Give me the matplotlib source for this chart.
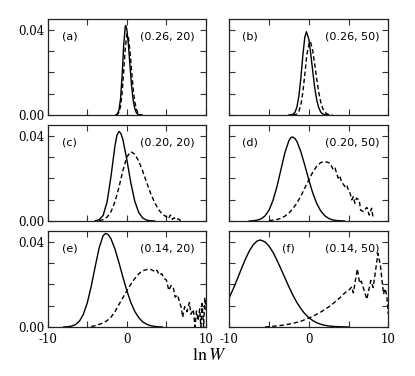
import matplotlib
matplotlib.use("Agg")
import matplotlib.pyplot as plt
from matplotlib.ticker import MultipleLocator, FixedLocator

# ---------------- data ----------------
a_solid_x = [-1.4, -1.2, -1.0, -0.8, -0.6, -0.4, -0.2, -0.15, 0.0, 0.2, 0.4, 0.6, 0.8, 1.0, 1.2, 1.4, 1.6, 1.8]
a_solid_y = [0.0000, 0.0005, 0.0022, 0.0075, 0.0184, 0.0326, 0.0416, 0.0420, 0.0401, 0.0329, 0.0229, 0.0136,
             0.0069, 0.0030, 0.0011, 0.0003, 0.0001, 0.0000]
a_dash_x = [-1.4, -1.2, -1.0, -0.8, -0.6, -0.4, -0.2, 0.0, 0.05, 0.2, 0.4, 0.6, 0.8, 1.0, 1.2, 1.4, 1.6, 1.8, 2.0]
a_dash_y = [0.0000, 0.0003, 0.0012, 0.0040, 0.0102, 0.0202, 0.0313, 0.0377, 0.0380, 0.0363, 0.0298, 0.0207,
            0.0123, 0.0062, 0.0027, 0.0010, 0.0003, 0.0001, 0.0000]

b_solid_x = [-2.5, -2.25, -2.0, -1.75, -1.5, -1.25, -1.0, -0.75, -0.5, -0.3, 0.0, 0.25, 0.5, 0.75, 1.0, 1.25,
             1.5, 1.75, 2.0, 2.25, 2.5]
b_solid_y = [0.0000, 0.0001, 0.0003, 0.0012, 0.0036, 0.0088, 0.0173, 0.0279, 0.0365, 0.0390, 0.0356, 0.0286,
             0.0203, 0.0127, 0.0070, 0.0034, 0.0014, 0.0005, 0.0002, 0.0001, 0.0000]
b_dash_x = [-2.0, -1.75, -1.5, -1.25, -1.0, -0.75, -0.5, -0.25, 0.1, 0.25, 0.5, 0.75, 1.0, 1.25, 1.5, 1.75,
            2.0, 2.25, 2.5, 2.75, 3.0]
b_dash_y = [0.0000, 0.0001, 0.0005, 0.0017, 0.0047, 0.0105, 0.0190, 0.0282, 0.0345, 0.0338, 0.0299, 0.0237,
            0.0168, 0.0107, 0.0060, 0.0031, 0.0014, 0.0006, 0.0002, 0.0001, 0.0000]

c_solid_x = [-4.0, -3.5, -3.0, -2.5, -2.0, -1.5, -1.25, -1.0, -0.75, -0.5, 0.0, 0.5, 1.0, 1.5, 2.0, 2.5, 3.0, 3.5]
c_solid_y = [0.0001, 0.0006, 0.0026, 0.0089, 0.0210, 0.0353, 0.0402, 0.0420, 0.0410, 0.0382, 0.0288, 0.0179,
             0.0093, 0.0040, 0.0014, 0.0004, 0.0001, 0.0000]
c_dash_x = [-3.5, -3.0, -2.5, -2.0, -1.5, -1.0, -0.5, 0.0, 0.5, 1.0, 1.5, 2.0, 2.5, 3.0, 3.5, 4.0, 4.5, 5.0,
            5.25, 5.5, 5.75, 6.0, 6.25, 6.5, 6.75, 7.0]
c_dash_y = [0.0002, 0.0006, 0.0018, 0.0044, 0.0090, 0.0158, 0.0236, 0.0300, 0.0325, 0.0313, 0.0281, 0.0234,
            0.0181, 0.0130, 0.0087, 0.0054, 0.0031, 0.0020, 0.0010, 0.0028, 0.0008, 0.0015, 0.0005, 0.0010,
            0.0003, 0.0000]

d_solid_x = [-7.5, -7.0, -6.5, -6.0, -5.5, -5.0, -4.5, -4.0, -3.5, -3.0, -2.5, -2.25, -2.07, -1.75, -1.5, -1.0,
             -0.5, 0.0, 0.5, 1.0, 1.5, 2.0, 2.5, 3.0, 3.5, 4.0, 4.5]
d_solid_y = [0.0000, 0.0001, 0.0004, 0.0010, 0.0024, 0.0051, 0.0097, 0.0162, 0.0242, 0.0321, 0.0377, 0.0391,
             0.0394, 0.0387, 0.0373, 0.0325, 0.0261, 0.0193, 0.0131, 0.0082, 0.0047, 0.0025, 0.0012, 0.0005,
             0.0002, 0.0001, 0.0000]
d_dash_x = [-5.0, -4.5, -4.0, -3.5, -3.0, -2.5, -2.0, -1.5, -1.0, -0.5, 0.0, 0.5, 1.0, 1.5, 1.85, 2.3, 2.67,
            3.08, 3.3, 3.5, 3.7, 3.9, 4.1, 4.55, 4.77, 4.97, 5.2, 5.4, 5.6, 5.8, 6.0, 6.35, 6.5, 6.86, 7.3, 7.6,
            7.9, 8.1]
d_dash_y = [0.0002, 0.0004, 0.0007, 0.0013, 0.0023, 0.0037, 0.0058, 0.0084, 0.0117, 0.0155, 0.0193, 0.0229,
            0.0257, 0.0274, 0.0278, 0.0276, 0.0271, 0.0240, 0.0248, 0.0224, 0.0201, 0.0212, 0.0185, 0.0161,
            0.0169, 0.0146, 0.0130, 0.0099, 0.0114, 0.0083, 0.0107, 0.0099, 0.0052, 0.0044, 0.0064, 0.0028,
            0.0060, 0.0013]

e_solid_x = [-8.0, -7.5, -7.0, -6.5, -6.0, -5.5, -5.0, -4.5, -4.0, -3.5, -3.0, -2.68, -2.35, -2.0, -1.5, -1.0,
             -0.5, 0.0, 0.5, 1.0, 1.5, 2.0, 2.5, 3.0, 3.5, 4.0, 4.5]
e_solid_y = [0.0000, 0.0001, 0.0004, 0.0011, 0.0027, 0.0059, 0.0113, 0.0191, 0.0283, 0.0371, 0.0428, 0.0439,
             0.0433, 0.0413, 0.0365, 0.0302, 0.0234, 0.0170, 0.0115, 0.0073, 0.0044, 0.0024, 0.0013, 0.0006,
             0.0003, 0.0001, 0.0000]
e_dash_x = [-4.5, -4.0, -3.5, -3.0, -2.5, -2.0, -1.5, -1.0, -0.5, 0.0, 0.5, 1.0, 1.5, 2.0, 2.7, 3.0, 3.3, 3.6,
            3.8, 4.1, 4.4, 4.7, 5.0, 5.3, 5.6, 5.9, 6.1, 6.4, 6.7, 6.9, 7.05, 7.3, 7.6, 7.9, 8.1, 8.4, 8.6, 8.8,
            9.0, 9.2, 9.35, 9.5, 9.7, 9.85, 10.0]
e_dash_y = [0.0002, 0.0006, 0.0012, 0.0019, 0.0030, 0.0046, 0.0072, 0.0105, 0.0138, 0.0170, 0.0200, 0.0227,
            0.0249, 0.0264, 0.0271, 0.0270, 0.0265, 0.0258, 0.0266, 0.0244, 0.0250, 0.0228, 0.0220, 0.0172,
            0.0195, 0.0180, 0.0140, 0.0150, 0.0112, 0.0088, 0.0045, 0.0095, 0.0072, 0.0115, 0.0060, 0.0082,
            0.0000, 0.0075, 0.0030, 0.0085, 0.0000, 0.0110, 0.0000, 0.0138, 0.0080]

f_solid_x = [-10.0, -9.5, -9.0, -8.5, -8.0, -7.5, -7.0, -6.5, -6.1, -5.5, -5.0, -4.5, -4.0, -3.5, -3.0, -2.5,
             -2.0, -1.5, -1.0, -0.5, 0.0, 0.5, 1.0, 1.5, 2.0, 2.5, 3.0, 3.5, 4.0, 5.0]
f_solid_y = [0.0138, 0.0179, 0.0224, 0.0271, 0.0316, 0.0355, 0.0385, 0.0403, 0.0408, 0.0399, 0.0379, 0.0350,
             0.0313, 0.0272, 0.0230, 0.0188, 0.0149, 0.0115, 0.0086, 0.0062, 0.0044, 0.0030, 0.0020, 0.0013,
             0.0008, 0.0005, 0.0003, 0.0002, 0.0001, 0.0000]
f_dash_x = [-5.5, -5.0, -4.0, -3.0, -2.0, -1.0, 0.0, 0.5, 1.0, 1.5, 2.0, 2.5, 3.0, 3.5, 4.0, 4.4, 4.8, 5.1, 5.4,
            5.6, 6.1, 6.4, 6.6, 7.3, 7.8, 8.1, 8.7, 9.0, 9.4, 9.6, 9.8, 10.0]
f_dash_y = [0.0000, 0.0002, 0.0005, 0.0010, 0.0017, 0.0027, 0.0042, 0.0050, 0.0060, 0.0070, 0.0082, 0.0094,
            0.0108, 0.0124, 0.0140, 0.0155, 0.0168, 0.0175, 0.0188, 0.0160, 0.0272, 0.0205, 0.0215, 0.0130,
            0.0218, 0.0185, 0.0345, 0.0290, 0.0154, 0.0180, 0.0150, 0.0060]

panel_letters = ["(a)", "(b)", "(c)", "(d)", "(e)", "(f)"]
panel_params = ["(0.26, 20)", "(0.26, 50)", "(0.20, 20)", "(0.20, 50)", "(0.14, 20)", "(0.14, 50)"]
y_tick_labels = ["0.00", "0.04"]
x_tick_labels = ["-10", "0", "10"]
x_label = r"$\ln W$"

solids = [(a_solid_x, a_solid_y), (b_solid_x, b_solid_y), (c_solid_x, c_solid_y),
          (d_solid_x, d_solid_y), (e_solid_x, e_solid_y), (f_solid_x, f_solid_y)]
dashes = [(a_dash_x, a_dash_y), (b_dash_x, b_dash_y), (c_dash_x, c_dash_y),
          (d_dash_x, d_dash_y), (e_dash_x, e_dash_y), (f_dash_x, f_dash_y)]

# ---------------- figure ----------------
plt.rcParams['mathtext.fontset'] = 'stix'
W, H = 415, 376
fig = plt.figure(figsize=(W / 100, H / 100), dpi=100)

col_left = [47.7, 229.3]
col_w = [158.3, 159.0]
row_top = [19, 125, 231]
row_h = 96

letter_x = [0.09, 0.08, 0.09, 0.08, 0.09, 0.33]
param_x = [0.925, 0.945, 0.925, 0.945, 0.925, 0.945]

for i in range(6):
    r, c = divmod(i, 2)
    ax = fig.add_axes([col_left[c] / W, 1 - (row_top[r] + row_h) / H, col_w[c] / W, row_h / H])
    sx, sy = solids[i]
    dx, dy = dashes[i]
    ax.plot(sx, sy, color='black', lw=1.0, solid_joinstyle='round')
    ax.plot(dx, dy, color='black', lw=1.0, linestyle=(0, (3.2, 2.0)))
    ax.set_xlim(-10, 10)
    ax.set_ylim(0, 0.045)
    ax.xaxis.set_major_locator(FixedLocator([-10, -5, 0, 5, 10]))
    ax.yaxis.set_major_locator(FixedLocator([0.0, 0.01, 0.02, 0.03, 0.04]))
    ax.tick_params(direction='in', top=True, right=True, length=4, width=0.8, color='#333333')
    ax.tick_params(axis='x', pad=4)
    ax.tick_params(axis='y', pad=2)
    for s in ax.spines.values():
        s.set_linewidth(0.9)
        s.set_color('#222222')
    if c == 0:
        ax.set_yticklabels(["0.00", "", "", "", "0.04"], family='DejaVu Serif', fontsize=8.5)
    else:
        ax.set_yticklabels([])
    if r == 2:
        ax.set_xticklabels(["-10", "", "0", "", "10"], family='DejaVu Serif', fontsize=8.5)
    else:
        ax.set_xticklabels([])
    ax.text(letter_x[i], 0.82, panel_letters[i], transform=ax.transAxes, ha='left', va='center',
            fontsize=8, family='DejaVu Sans')
    ax.text(param_x[i], 0.82, panel_params[i], transform=ax.transAxes, ha='right', va='center',
            fontsize=8, family='DejaVu Sans')

fig.text(0.504, 0.056, x_label, ha='center', va='center', fontsize=13)

fig.savefig("out.png", dpi=100)
